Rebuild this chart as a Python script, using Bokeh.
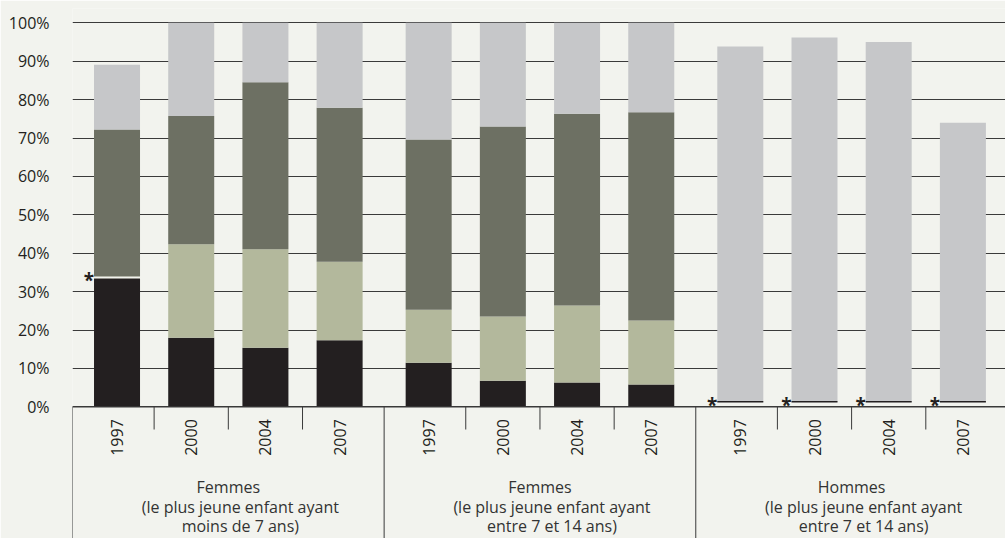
import numpy as np
from bokeh.plotting import figure
from bokeh.models import Range1d, FixedTicker, ColumnDataSource, Span
from bokeh.core.properties import value
from bokeh.embed import file_html
from bokeh.resources import INLINE

# ---------------- data ----------------
annees = ["1997", "2000", "2004", "2007"]
groupes = [
    ["Femmes", "(le plus jeune enfant ayant", "moins de 7 ans)"],
    ["Femmes", "(le plus jeune enfant ayant", "entre 7 et 14 ans)"],
    ["Hommes", "(le plus jeune enfant ayant", "entre 7 et 14 ans)"],
]
# share not shown (non significant, marked with *)
non_significatif = [0, 0, 0, 0, 0, 0, 0, 0, 1.3, 1.3, 1.3, 1.3]
noir = [33.5, 18.0, 15.4, 17.3, 11.5, 6.8, 6.3, 5.8, 0, 0, 0, 0]
olive_clair = [0.4, 24.3, 25.6, 20.5, 13.8, 16.7, 20.1, 16.7, 0, 0, 0, 0]
olive_fonce = [38.3, 33.4, 43.5, 40.1, 44.3, 49.5, 49.9, 54.2, 0, 0, 0, 0]
gris = [16.9, 24.3, 15.5, 22.1, 30.4, 27.0, 23.7, 23.3, 92.5, 94.9, 93.7, 72.7]
etoiles = [0, 8, 9, 10, 11]          # bars carrying a "*"
y_ticks = [0, 10, 20, 30, 40, 50, 60, 70, 80, 90, 100]
y_labels = ["0%", "10%", "20%", "30%", "40%", "50%", "60%", "70%", "80%", "90%", "100%"]

# ---------------- styling ----------------
BG = "#f2f3ee"
C_NOIR = "#231f20"
C_CLAIR = "#b3b89c"
C_FONCE = "#6d7063"
C_GRIS = "#c6c7c9"
LINE = "#3a3a3a"
FONT = "Open Sans"
GAP = 0.2
BAR_W = 0.62
PX_X = 74.2
PX_Y = 3.84

n_g = len(groupes)
n_a = len(annees)
xs = np.array([g * (n_a + GAP) + j for g in range(n_g) for j in range(n_a)], dtype=float)

W, H = 1005, 538
left_b, top_b = 72, 8
ZERO_PX = 406.3
y_end = 100 + (22.3 - top_b) / PX_Y
y_start = y_end - (H - top_b) / PX_Y
x_start = -(1 + GAP) / 2
x_end = x_start + (W - left_b) / PX_X


def below(px):
    """data y of a page pixel row below the zero line"""
    return -(px - ZERO_PX) / PX_Y


p = figure(width=W, height=H, output_backend="svg", toolbar_location=None,
           x_range=Range1d(x_start, x_end), y_range=Range1d(y_start, y_end),
           x_axis_location=None, min_border_left=left_b, min_border_right=0,
           min_border_top=top_b, min_border_bottom=0)
p.background_fill_color = BG
p.border_fill_color = BG
p.outline_line_color = None
p.xgrid.visible = False
p.ygrid.grid_line_color = LINE
p.ygrid.grid_line_width = 1

ax = p.yaxis[0]
ax.ticker = FixedTicker(ticks=y_ticks)
ax.major_label_overrides = {t: l for t, l in zip(y_ticks, y_labels)}
ax.axis_line_color = None
ax.major_tick_line_color = None
ax.minor_tick_line_color = None
ax.major_label_standoff = 17
ax.major_label_text_font = FONT
ax.major_label_text_font_size = "16px"
ax.major_label_text_color = C_NOIR

# stacked bars
series = [(noir, C_NOIR), (olive_clair, C_CLAIR), (olive_fonce, C_FONCE), (gris, C_GRIS)]
bottom = np.array(non_significatif, dtype=float)
for vals, col in series:
    top = bottom + np.array(vals, dtype=float)
    src = ColumnDataSource(dict(x=xs, bottom=bottom, top=top))
    p.vbar(x="x", width=BAR_W, bottom="bottom", top="top", source=src,
           fill_color=col, line_color=None)
    bottom = top

p.add_layout(Span(location=0, dimension="width", line_color=LINE, line_width=1.2))

# stars for non-significant values
st_x = xs[etoiles] - BAR_W / 2
st_y = [non_significatif[i] + noir[i] + (olive_clair[i] / 2 if non_significatif[i] == 0 else 0)
        for i in etoiles]
st_col = [BG if non_significatif[i] == 0 else C_NOIR for i in etoiles]
p.segment(x0=list(st_x), x1=list(xs[etoiles] + BAR_W / 2), y0=st_y, y1=st_y,
          line_color=st_col, line_width=1.5)
p.text(x=list(st_x), y=st_y, text=["*"] * len(etoiles), x_offset=-5, y_offset=3,
       text_align="center", text_baseline="alphabetic", text_font=value(FONT),
       text_font_style="bold", text_font_size="19px", text_color=C_NOIR)

# category axis drawn below zero
mids = []
for g in range(n_g):
    for j in range(n_a - 1):
        mids.append(g * (n_a + GAP) + j + 0.5)
p.segment(x0=mids, x1=mids, y0=[0] * len(mids), y1=[below(429)] * len(mids),
          line_color=LINE, line_width=1)
seps = [g * (n_a + GAP) - (1 + GAP) / 2 for g in range(n_g + 1)]
p.segment(x0=seps, x1=seps, y0=[0] * len(seps), y1=[y_start - 1] * len(seps),
          line_color=LINE, line_width=1)

p.text(x=list(xs), y=[below(437)] * len(xs), text=annees * n_g, angle=np.pi / 2,
       text_align="center", text_baseline="middle", text_font=value(FONT),
       text_font_size="16px", text_color=C_NOIR)

centers = [g * (n_a + GAP) + (n_a - 1) / 2 for g in range(n_g)]
line_px = [486, 506, 525]
for k, ypx in enumerate(line_px):
    p.text(x=centers, y=[below(ypx)] * n_g, text=[grp[k] for grp in groupes],
           x_offset=0 if k == 0 else 12,
           text_align="center", text_baseline="middle", text_font=value(FONT),
           text_font_size="16px", text_color="#333333")

open("out.html", "w").write(file_html(p, INLINE))
